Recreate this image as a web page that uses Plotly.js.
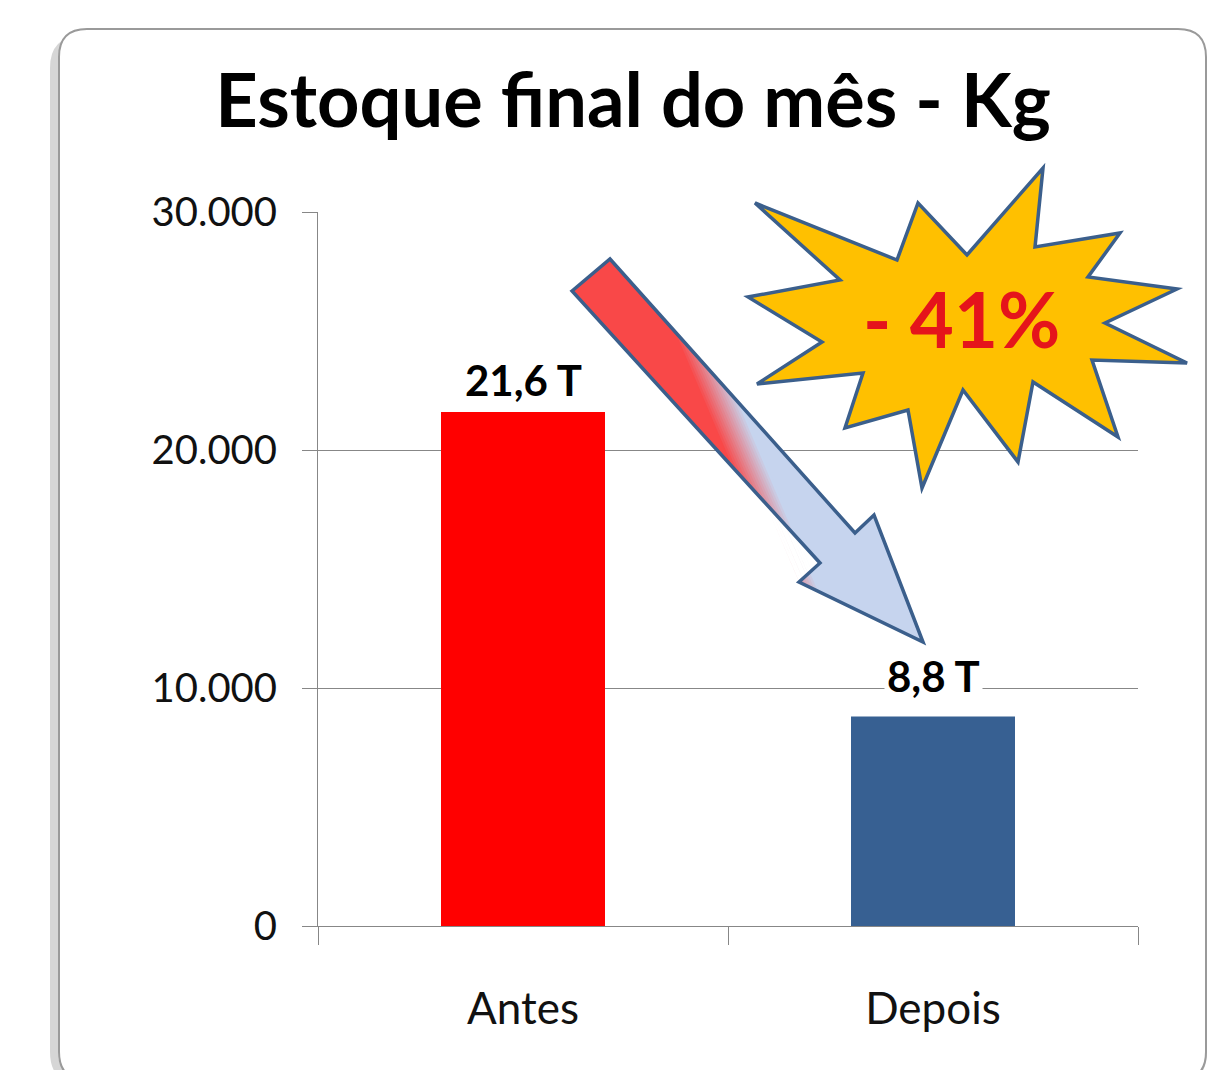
<!DOCTYPE html>
<html>
<head>
<meta charset="utf-8">
<script src="https://cdn.plot.ly/plotly-3.0.1.min.js"></script>
<style>html,body{margin:0;padding:0;background:#fff;}#chart{width:1232px;height:1070px;}</style>
</head>
<body>
<div id="chart"></div>
<script>
// ---- data ----
const categories = ['Antes', 'Depois'];
const stockKg = [21600, 8800];
const valueLabels = ['21,6 T', '8,8 T'];
const barColors = ['#ff0000', '#376092'];
const yTickVals = [0, 10000, 20000, 30000];
const yTickText = ['0', '10.000', '20.000', '30.000'];
const chartTitle = 'Estoque final do mês - Kg';
const badgeText = '- 41%';

// ---- helpers: decoration geometry in pixels -> paper ----
const W = 1232, H = 1070;
const M = {l: 318, r: 94, t: 212, b: 144};
const PL = M.l, PR = W - M.r, PT = M.t, PB = H - M.b;
const px = x => (x - PL) / (PR - PL);
const py = y => (PB - y) / (PB - PT);
function pathFrom(pts) {
  return 'M' + pts.map(p => px(p[0]).toFixed(5) + ',' + py(p[1]).toFixed(5)).join(' L') + ' Z';
}
function roundRect(x0, y0, x1, y1, r) {
  const f = (x, y) => px(x).toFixed(5) + ',' + py(y).toFixed(5);
  return 'M' + f(x0 + r, y0) + ' L' + f(x1 - r, y0) + ' Q' + f(x1, y0) + ' ' + f(x1, y0 + r) +
    ' L' + f(x1, y1 - r) + ' Q' + f(x1, y1) + ' ' + f(x1 - r, y1) +
    ' L' + f(x0 + r, y1) + ' Q' + f(x0, y1) + ' ' + f(x0, y1 - r) +
    ' L' + f(x0, y0 + r) + ' Q' + f(x0, y0) + ' ' + f(x0 + r, y0) + ' Z';
}
// clip polygon to half plane s(p) <= c
function clip(poly, n, o, c) {
  const s = p => (p[0] - o[0]) * n[0] + (p[1] - o[1]) * n[1];
  const out = [];
  for (let i = 0; i < poly.length; i++) {
    const a = poly[i], b = poly[(i + 1) % poly.length];
    const sa = s(a) - c, sb = s(b) - c;
    if (sa <= 0) out.push(a);
    if ((sa < 0 && sb > 0) || (sa > 0 && sb < 0)) {
      const t = sa / (sa - sb);
      out.push([a[0] + t * (b[0] - a[0]), a[1] + t * (b[1] - a[1])]);
    }
  }
  return out;
}
function mix(c1, c2, t) {
  return 'rgb(' + c1.map((v, i) => Math.round(v + (c2[i] - v) * t)).join(',') + ')';
}

const outline = '#3b5f8c';
const shapes = [];
// card with soft left shadow
shapes.push({type: 'path', xref: 'paper', yref: 'paper', layer: 'below',
  path: roundRect(54, 40, 1203, 1080, 28), fillcolor: 'rgba(0,0,0,0)',
  line: {color: 'rgba(0,0,0,0.16)', width: 8}});
shapes.push({type: 'path', xref: 'paper', yref: 'paper', layer: 'below',
  path: roundRect(59, 29, 1206, 1080, 28), fillcolor: '#ffffff',
  line: {color: '#9a9a9a', width: 2}});

// gradient arrow
const arrow = [[572, 291], [610, 259], [855, 533], [874, 515], [923, 642], [799, 582], [820, 563]];
const nlen = Math.hypot(80, -34);
const nrm = [80 / nlen, -34 / nlen], org = [743, 450];
const red = [249, 72, 72], blue = [198, 212, 238];
shapes.push({type: 'path', xref: 'paper', yref: 'paper', layer: 'above',
  path: pathFrom(arrow), fillcolor: mix(red, blue, 1), line: {width: 0}});
const steps = 14;
for (let k = steps; k >= 0; k--) {
  const c = -16 + 32 * k / steps;
  const poly = clip(arrow, nrm, org, c);
  if (poly.length > 2) {
    shapes.push({type: 'path', xref: 'paper', yref: 'paper', layer: 'above',
      path: pathFrom(poly), fillcolor: mix(red, blue, k / steps), line: {width: 0}});
  }
}
shapes.push({type: 'path', xref: 'paper', yref: 'paper', layer: 'above',
  path: pathFrom(arrow), fillcolor: 'rgba(0,0,0,0)', line: {color: outline, width: 3.5}});

// starburst
const star = [[755, 203], [897, 260], [918, 203], [967, 255], [1043, 168], [1035, 247], [1120, 233], [1088, 277],
  [1177, 289], [1105, 323], [1187, 363], [1092, 360], [1118, 437], [1033, 382], [1018, 462], [963, 390],
  [922, 488], [908, 410], [845, 428], [863, 373], [757, 384], [822, 342], [748, 297], [840, 280]];
shapes.push({type: 'path', xref: 'paper', yref: 'paper', layer: 'above',
  path: pathFrom(star), fillcolor: '#ffc000', line: {color: outline, width: 3.5}});

const annotations = categories.map((c, i) => ({
  x: c, y: stockKg[i], xref: 'x', yref: 'y', text: '<b>' + valueLabels[i] + '</b>',
  showarrow: false, yanchor: 'bottom', yshift: i === 0 ? 4 : 13,
  bgcolor: '#ffffff', borderpad: 2,
  font: {family: 'Lato, sans-serif', size: 42, color: '#000000'}
}));
annotations.push({x: px(961), y: py(318), xref: 'paper', yref: 'paper', text: '<b>' + badgeText + '</b>',
  showarrow: false, xanchor: 'center', yanchor: 'middle',
  font: {family: 'Lato, sans-serif', size: 76, color: '#e5141b'}});

const trace = {
  type: 'bar', x: categories, y: stockKg, width: 0.4,
  marker: {color: barColors, line: {width: 0}}, hoverinfo: 'skip'
};

const gray = '#878787';
const layout = {
  width: W, height: H, margin: M,
  paper_bgcolor: '#ffffff', plot_bgcolor: 'rgba(0,0,0,0)',
  showlegend: false,
  title: {text: '<b>' + chartTitle + '</b>', xref: 'container', yref: 'container',
    x: 633 / W, y: 1 - 101 / H, xanchor: 'center', yanchor: 'middle',
    font: {family: 'Lato, sans-serif', size: 74, color: '#000000'}},
  xaxis: {type: 'category', showgrid: false, showline: true, linecolor: gray, linewidth: 1,
    ticks: 'outside', tickson: 'boundaries', ticklen: 18, tickcolor: gray, tickwidth: 1,
    tickfont: {family: 'Lato, sans-serif', size: 44, color: '#111111'}, ticklabelstandoff: 44,
    fixedrange: true},
  yaxis: {range: [0, 30000], tickvals: yTickVals, ticktext: yTickText, showgrid: true, gridcolor: gray,
    gridwidth: 1, zeroline: false, showline: true, linecolor: gray, linewidth: 1,
    ticks: 'outside', ticklen: 15, tickcolor: gray, tickwidth: 1,
    tickfont: {family: 'Lato, sans-serif', size: 40, color: '#111111'}, ticklabelstandoff: 17,
    fixedrange: true},
  shapes: shapes,
  annotations: annotations
};

Plotly.newPlot('chart', [trace], layout, {displayModeBar: false, staticPlot: true});
</script>
</body>
</html>
